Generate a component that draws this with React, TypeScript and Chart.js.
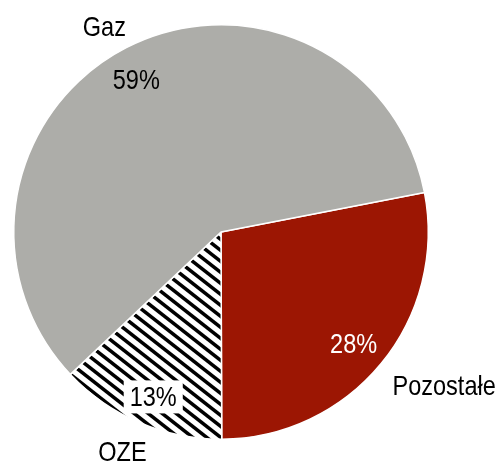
import React, { useEffect, useRef } from "react";
import { Chart, registerables } from "chart.js";

Chart.register(...registerables);

const categories = ["Pozostałe", "OZE", "Gaz"];
const values = [28, 13, 59];
const percentLabels = ["28%", "13%", "59%"];

const GRAY = "#adada9";
const RED = "#9c1603";

function makeHatch(): CanvasPattern | string {
  const w = 14, h = 11;
  const c = document.createElement("canvas");
  c.width = w;
  c.height = h;
  const g = c.getContext("2d");
  if (!g) return "#fff";
  g.fillStyle = "#fff";
  g.fillRect(0, 0, w, h);
  g.strokeStyle = "#000";
  g.lineWidth = 3.5;
  for (const ox of [-w, 0, w]) {
    g.beginPath();
    g.moveTo(ox - w, -h);
    g.lineTo(ox + 2 * w, 2 * h);
    g.stroke();
  }
  return g.createPattern(c, "repeat") || "#fff";
}

// label placement (per slice): angle offset in degrees from mid-angle, distance as fraction of radius
const PCT_PLACE = [
  { da: 0.4, d: 0.833, color: "#ffffff", box: false },
  { da: -0.8, d: 0.858, color: "#000000", box: true },
  { da: -1.7, d: 0.846, color: "#000000", box: false },
];
const NAME_PLACE = [
  { da: 2.4, d: 1.11, align: "left" as CanvasTextAlign },
  { da: 1.0, d: 1.16, align: "center" as CanvasTextAlign },
  { da: -2.3, d: 1.143, align: "center" as CanvasTextAlign },
];

const FONT_SIZE = 28;
const SCALE_X = 0.84;

const labelPlugin = {
  id: "sliceLabels",
  afterDatasetsDraw(chart: any) {
    const ctx: CanvasRenderingContext2D = chart.ctx;
    const meta = chart.getDatasetMeta(0);
    ctx.save();
    ctx.font = `${FONT_SIZE}px "Liberation Sans", Arial, sans-serif`;
    ctx.textBaseline = "alphabetic";
    const capHalf = FONT_SIZE * 0.716 / 2;
    meta.data.forEach((arc: any, i: number) => {
      const p = arc.getProps(["x", "y", "startAngle", "endAngle", "outerRadius"], true);
      const mid = (p.startAngle + p.endAngle) / 2;
      // percent label
      const pp = PCT_PLACE[i];
      const a1 = mid + (pp.da * Math.PI) / 180;
      const px = p.x + Math.cos(a1) * p.outerRadius * pp.d;
      const py = p.y + Math.sin(a1) * p.outerRadius * pp.d;
      const tw = ctx.measureText(percentLabels[i]).width * SCALE_X;
      if (pp.box) {
        ctx.fillStyle = "#ffffff";
        ctx.fillRect(px - tw / 2 - 6, py - 16, tw + 12, 33);
      }
      ctx.fillStyle = pp.color;
      ctx.save();
      ctx.translate(px, py + capHalf);
      ctx.scale(SCALE_X, 1);
      ctx.textAlign = "center";
      ctx.fillText(percentLabels[i], 0, 0);
      ctx.restore();
      // category label
      const np = NAME_PLACE[i];
      const a2 = mid + (np.da * Math.PI) / 180;
      const nx = p.x + Math.cos(a2) * p.outerRadius * np.d;
      const ny = p.y + Math.sin(a2) * p.outerRadius * np.d;
      ctx.fillStyle = "#000000";
      ctx.save();
      ctx.translate(nx, ny + capHalf);
      ctx.scale(SCALE_X, 1);
      ctx.textAlign = np.align;
      ctx.fillText(categories[i], 0, 0);
      ctx.restore();
    });
    ctx.restore();
  },
};

export default function App() {
  const ref = useRef<HTMLCanvasElement | null>(null);
  useEffect(() => {
    if (!ref.current) return;
    const hatch = makeHatch();
    const chart = new Chart(ref.current, {
      type: "pie",
      data: {
        labels: categories,
        datasets: [
          {
            data: values,
            backgroundColor: [RED, hatch as any, GRAY],
            borderColor: "#ffffff",
            borderWidth: 1.5,
            hoverOffset: 0,
          },
        ],
      },
      options: {
        responsive: false,
        animation: false,
        rotation: 79,
        layout: { padding: { left: 13, right: 70, top: 24, bottom: 24 } },
        plugins: {
          legend: { display: false },
          tooltip: { enabled: false },
        },
        events: [],
      },
      plugins: [labelPlugin],
    });
    return () => chart.destroy();
  }, []);
  return (
    <div style={{ position: "absolute", left: 0, top: 0, width: 499, height: 464, background: "#fff" }}>
      <canvas ref={ref} width={499} height={464} style={{ width: 499, height: 464, display: "block" }} />
    </div>
  );
}
